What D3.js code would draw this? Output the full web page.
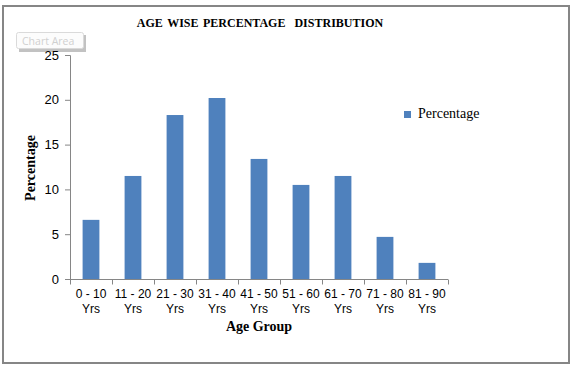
<!DOCTYPE html>
<html>
<head>
<meta charset="utf-8">
<script src="https://cdn.jsdelivr.net/npm/d3@7"></script>
<style>
  body { margin: 0; background: #fff; }
  svg { display: block; }
</style>
</head>
<body>
<svg width="576" height="370"></svg>
<script>
const AGE_GROUPS = ["0 - 10|Yrs", "11 - 20|Yrs", "21 - 30|Yrs", "31 - 40|Yrs", "41 - 50|Yrs",
  "51 - 60|Yrs", "61 - 70|Yrs", "71 - 80|Yrs", "81 - 90|Yrs"];
const PERCENTAGE = [6.6, 11.5, 18.3, 20.2, 13.4, 10.5, 11.5, 4.7, 1.8];
const Y_TICKS = [0, 5, 10, 15, 20, 25];

const svg = d3.select("svg");

// outer frame
svg.append("rect")
  .attr("x", 3).attr("y", 6)
  .attr("width", 566).attr("height", 357)
  .attr("fill", "#fff")
  .attr("stroke", "#868686")
  .attr("stroke-width", 2);

const xScale = d3.scaleBand()
  .domain(AGE_GROUPS)
  .range([70, 448])
  .paddingInner(0.6)
  .paddingOuter(0.3);
const yScale = d3.scaleLinear().domain([0, 25]).range([279, 55]);

// "Chart Area" tooltip (behind the axis labels)
const tip = svg.append("g");
tip.append("rect")
  .attr("x", 19).attr("y", 35)
  .attr("width", 67).attr("height", 17)
  .attr("fill", "#9a9a9a")
  .attr("opacity", 0.6);
tip.append("rect")
  .attr("x", 16.5).attr("y", 32.5)
  .attr("width", 67).attr("height", 16)
  .attr("rx", 2)
  .attr("fill", "#fcfcfc")
  .attr("stroke", "#dadada");
tip.append("text")
  .attr("x", 22).attr("y", 45)
  .attr("font-family", "Open Sans, DejaVu Sans, sans-serif")
  .attr("font-size", 10.5)
  .attr("fill", "#d0d0d0")
  .text("Chart Area");

// y axis
const yAxis = svg.append("g")
  .attr("transform", "translate(70,0)")
  .call(d3.axisLeft(yScale).tickValues(Y_TICKS).tickSize(5).tickPadding(6));
yAxis.selectAll("text")
  .attr("font-family", "Liberation Sans, Arial, sans-serif")
  .attr("font-size", 13)
  .attr("fill", "#000");
yAxis.selectAll("line, path").attr("stroke", "#868686");

// x axis (ticks between categories)
const xAxisG = svg.append("g").attr("transform", "translate(0,279.5)");
xAxisG.append("line")
  .attr("x1", 70).attr("x2", 448)
  .attr("stroke", "#868686");
const step = xScale.step();
d3.range(AGE_GROUPS.length + 1).forEach((i) => {
  const x = Math.round(70 + i * step) + 0.5;
  xAxisG.append("line")
    .attr("x1", x).attr("x2", x)
    .attr("y1", 0).attr("y2", 5)
    .attr("stroke", "#868686");
});

const xLabels = svg.append("g")
  .selectAll("text")
  .data(AGE_GROUPS)
  .enter()
  .append("text")
  .attr("text-anchor", "middle")
  .attr("font-family", "Liberation Sans, Arial, sans-serif")
  .attr("font-size", 12)
  .attr("fill", "#000");
xLabels.each(function (d) {
  const cx = xScale(d) + xScale.bandwidth() / 2;
  const parts = d.split("|");
  d3.select(this).append("tspan").attr("x", cx).attr("y", 298).text(parts[0]);
  d3.select(this).append("tspan").attr("x", cx).attr("y", 313).text(parts[1]);
});

// bars
svg.selectAll(".bar")
  .data(PERCENTAGE)
  .enter()
  .append("rect")
  .classed("bar", true)
  .attr("x", (d, i) => xScale(AGE_GROUPS[i]))
  .attr("y", (d) => yScale(d))
  .attr("width", xScale.bandwidth())
  .attr("height", (d) => yScale(0) - yScale(d))
  .attr("fill", "#4f81bd");

// title
svg.append("text")
  .attr("x", 260).attr("y", 27)
  .attr("text-anchor", "middle")
  .attr("font-family", "Liberation Serif, Times New Roman, serif")
  .attr("font-weight", "bold")
  .attr("font-size", 12)
  .attr("word-spacing", 1.5)
  .text("AGE WISE PERCENTAGE \u00a0DISTRIBUTION");

// axis titles
svg.append("text")
  .attr("transform", "translate(35,168) rotate(-90)")
  .attr("text-anchor", "middle")
  .attr("font-family", "Liberation Serif, Times New Roman, serif")
  .attr("font-weight", "bold")
  .attr("font-size", 14)
  .text("Percentage");

svg.append("text")
  .attr("x", 259).attr("y", 331)
  .attr("text-anchor", "middle")
  .attr("font-family", "Liberation Serif, Times New Roman, serif")
  .attr("font-weight", "bold")
  .attr("font-size", 14)
  .text("Age Group");

// legend
svg.append("rect")
  .attr("x", 404).attr("y", 111)
  .attr("width", 7).attr("height", 7)
  .attr("fill", "#4f81bd");
svg.append("text")
  .attr("x", 418).attr("y", 118)
  .attr("font-family", "Liberation Serif, Times New Roman, serif")
  .attr("font-size", 14)
  .text("Percentage");
</script>
</body>
</html>
